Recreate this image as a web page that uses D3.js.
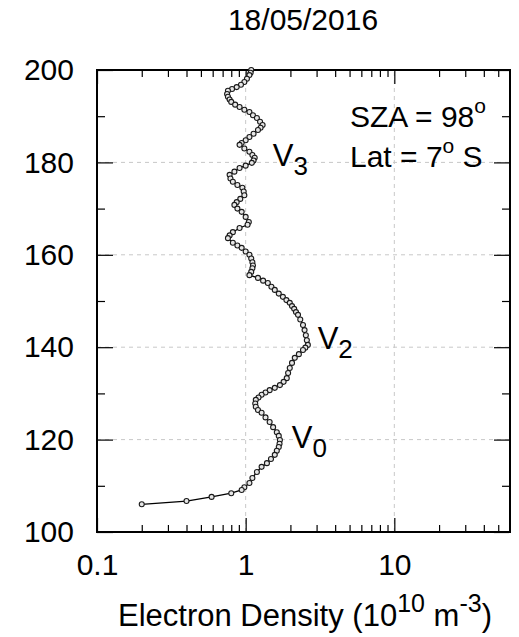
<!DOCTYPE html>
<html lang="en">
<head>
    <meta charset="UTF-8">
    <title>Electron Density Profile</title>
    <script src="https://d3js.org/d3.v7.min.js"></script>
    <style>
        body { margin: 0; background: #fff; }
        text { font-family: "Liberation Sans", Arial, sans-serif; fill: #000; }
        .grid line { stroke: #c8c8c8; stroke-dasharray: 4,4; }
    </style>
</head>
<body>
</body>
<script>
    const width = 519;
    const height = 637;
    const margin = {top: 70, right: 9, bottom: 105, left: 97};

    // altitude (km) and electron density (10^10 m^-3)
    const altitude = [200.0, 199.4, 198.9, 198.1, 197.4, 196.8, 196.3, 195.9, 195.5, 194.8,
        194.2, 193.6, 193.1, 192.5, 192.0, 191.4, 190.9, 190.2, 189.6, 188.8,
        188.1, 187.5, 187.0, 186.2, 185.5, 184.8, 184.2, 183.8, 183.0, 182.3,
        181.6, 181.0, 180.4, 179.9, 179.3, 178.8, 178.0, 177.3, 176.5, 175.8,
        175.1, 174.5, 173.7, 172.9, 172.1, 171.4, 170.8, 170.0, 169.3, 168.2,
        167.1, 166.5, 165.8, 164.9, 164.2, 163.6, 162.6, 162.0, 161.5, 160.7,
        160.0, 159.2, 158.4, 157.7, 157.1, 156.3, 155.6, 155.0, 154.4, 153.9,
        153.1, 152.4, 151.6, 150.9, 150.2, 149.6, 148.9, 148.3, 147.6, 147.0,
        146.0, 144.8, 143.7, 142.6, 141.5, 140.5, 139.9, 139.4, 138.5, 137.7,
        136.6, 135.5, 134.4, 133.3, 132.5, 131.8, 131.2, 130.7, 130.2, 129.7,
        129.1, 128.6, 127.8, 127.1, 126.4, 125.8, 124.8, 123.8, 122.7, 121.6,
        120.8, 119.9, 119.1, 118.4, 117.6, 116.7, 115.8, 114.9, 114.1, 113.0,
        111.7, 110.6, 109.7, 109.1, 108.4, 107.6, 106.7, 106.0];
    const density = [1.09, 1.08, 1.06, 1.02, 0.98, 0.93, 0.87, 0.81, 0.76, 0.75,
        0.76, 0.78, 0.80, 0.85, 0.91, 0.98, 1.06, 1.12, 1.19, 1.25,
        1.30, 1.26, 1.21, 1.13, 1.06, 1.00, 0.94, 0.91, 0.98, 1.06,
        1.11, 1.15, 1.13, 1.10, 1.00, 0.91, 0.84, 0.78, 0.79, 0.82,
        0.88, 0.95, 0.97, 0.98, 0.92, 0.87, 0.84, 0.88, 0.94, 1.00,
        1.05, 1.03, 0.91, 0.82, 0.78, 0.76, 0.82, 0.88, 0.94, 1.00,
        1.06, 1.09, 1.11, 1.12, 1.11, 1.09, 1.06, 1.21, 1.31, 1.41,
        1.49, 1.57, 1.67, 1.78, 1.88, 1.98, 2.05, 2.12, 2.18, 2.25,
        2.33, 2.43, 2.49, 2.54, 2.58, 2.62, 2.52, 2.43, 2.28, 2.14,
        2.05, 1.98, 1.93, 1.89, 1.80, 1.70, 1.57, 1.45, 1.36, 1.28,
        1.22, 1.17, 1.16, 1.17, 1.21, 1.28, 1.36, 1.45, 1.53, 1.62,
        1.67, 1.70, 1.69, 1.67, 1.62, 1.57, 1.48, 1.39, 1.28, 1.19,
        1.11, 1.06, 0.98, 0.94, 0.80, 0.59, 0.40, 0.20];

    const xMajor = [0.1, 1, 10];
    const xMinor = [0.2, 0.3, 0.4, 0.5, 0.6, 0.7, 0.8, 0.9, 2, 3, 4, 5, 6, 7, 8, 9, 20, 30, 40, 50];
    const yMajor = [100, 120, 140, 160, 180, 200];
    const yMinor = [110, 130, 150, 170, 190];
    const xGrid = [1, 10];
    const yGrid = [120, 140, 160, 180];

    const title = "18/05/2016";
    const layers = [
        {name: "V", sub: "3", alt: 180, ne: 1.52},
        {name: "V", sub: "2", alt: 140.5, ne: 3.05},
        {name: "V", sub: "0", alt: 119, ne: 2.04}
    ];

    const data = altitude.map((a, i) => ({alt: a, ne: density[i]}));

    const x = d3.scaleLog().domain([0.1, 60]).range([margin.left, width - margin.right]);
    const y = d3.scaleLinear().domain([100, 200]).range([height - margin.bottom, margin.top]);

    const svg = d3.select("body").append("svg")
        .attr("width", width)
        .attr("height", height);

    // dashed grid
    const grid = svg.append("g").attr("class", "grid");
    grid.selectAll(".gx").data(xGrid).enter().append("line")
        .attr("x1", d => x(d)).attr("x2", d => x(d))
        .attr("y1", y(100)).attr("y2", y(200));
    grid.selectAll(".gy").data(yGrid).enter().append("line")
        .attr("y1", d => y(d)).attr("y2", d => y(d))
        .attr("x1", x(0.1)).attr("x2", x(60));

    const fmt = d => d < 1 ? d.toString() : d3.format("d")(d);

    // axes, ticks pointing inward on all four sides
    const gBottom = svg.append("g").attr("transform", `translate(0,${y(100)})`);
    gBottom.call(d3.axisBottom(x).tickValues(xMajor).tickFormat(fmt).tickSize(-14).tickPadding(22));
    gBottom.append("g").call(d3.axisBottom(x).tickValues(xMinor).tickFormat("").tickSize(-7));

    const gTop = svg.append("g").attr("transform", `translate(0,${y(200)})`);
    gTop.call(d3.axisTop(x).tickValues(xMajor).tickFormat("").tickSize(-14));
    gTop.append("g").call(d3.axisTop(x).tickValues(xMinor).tickFormat("").tickSize(-7));

    const gLeft = svg.append("g").attr("transform", `translate(${x(0.1)},0)`);
    gLeft.call(d3.axisLeft(y).tickValues(yMajor).tickFormat(d3.format("d")).tickSize(-16).tickPadding(23));
    gLeft.append("g").call(d3.axisLeft(y).tickValues(yMinor).tickFormat("").tickSize(-8));

    const gRight = svg.append("g").attr("transform", `translate(${x(60)},0)`);
    gRight.call(d3.axisRight(y).tickValues(yMajor).tickFormat("").tickSize(-16));
    gRight.append("g").call(d3.axisRight(y).tickValues(yMinor).tickFormat("").tickSize(-8));

    svg.selectAll(".domain").remove();
    svg.selectAll(".tick line").attr("stroke", "#000").attr("stroke-width", 1.2);
    svg.selectAll(".tick text").attr("font-size", 30).attr("font-family", "Liberation Sans, Arial, sans-serif");

    // frame
    svg.append("rect")
        .attr("x", x(0.1)).attr("y", y(200))
        .attr("width", x(60) - x(0.1)).attr("height", y(100) - y(200))
        .attr("fill", "none").attr("stroke", "#000").attr("stroke-width", 2);

    // profile
    const line = d3.line().x(d => x(d.ne)).y(d => y(d.alt));
    svg.append("path").datum(data)
        .attr("d", line)
        .attr("fill", "none").attr("stroke", "#000").attr("stroke-width", 1.3);
    svg.selectAll(".pt").data(data).enter().append("circle")
        .attr("cx", d => x(d.ne)).attr("cy", d => y(d.alt))
        .attr("r", 2.5)
        .attr("fill", "#e6e6e6").attr("stroke", "#1a1a1a").attr("stroke-width", 1.1);

    // title
    svg.append("text")
        .attr("x", 303).attr("y", 30)
        .attr("text-anchor", "middle").attr("font-size", 30)
        .text(title);

    // x label
    const xl = svg.append("text")
        .attr("x", 305).attr("y", 626)
        .attr("text-anchor", "middle").attr("font-size", 31);
    xl.append("tspan").text("Electron Density (10");
    xl.append("tspan").attr("dy", -14).attr("font-size", 25).text("10");
    xl.append("tspan").attr("dy", 14).text(" m");
    xl.append("tspan").attr("dy", -14).attr("font-size", 25).text("-3");
    xl.append("tspan").attr("dy", 14).text(")");

    // layer labels
    layers.forEach(l => {
        const t = svg.append("text")
            .attr("x", x(l.ne)).attr("y", y(l.alt) + 4)
            .attr("font-size", 31);
        t.append("tspan").text(l.name);
        t.append("tspan").attr("dy", 9).attr("font-size", 26).text(l.sub);
    });

    // SZA / Lat annotation
    const a1 = svg.append("text").attr("x", 350).attr("y", 127).attr("font-size", 30);
    a1.append("tspan").text("SZA = 98");
    a1.append("tspan").attr("dy", -14).attr("font-size", 21).text("o");
    const a2 = svg.append("text").attr("x", 350).attr("y", 167).attr("font-size", 30);
    a2.append("tspan").text("Lat = 7");
    a2.append("tspan").attr("dy", -14).attr("font-size", 21).text("o");
    a2.append("tspan").attr("dy", 14).text(" S");
</script>
</html>
